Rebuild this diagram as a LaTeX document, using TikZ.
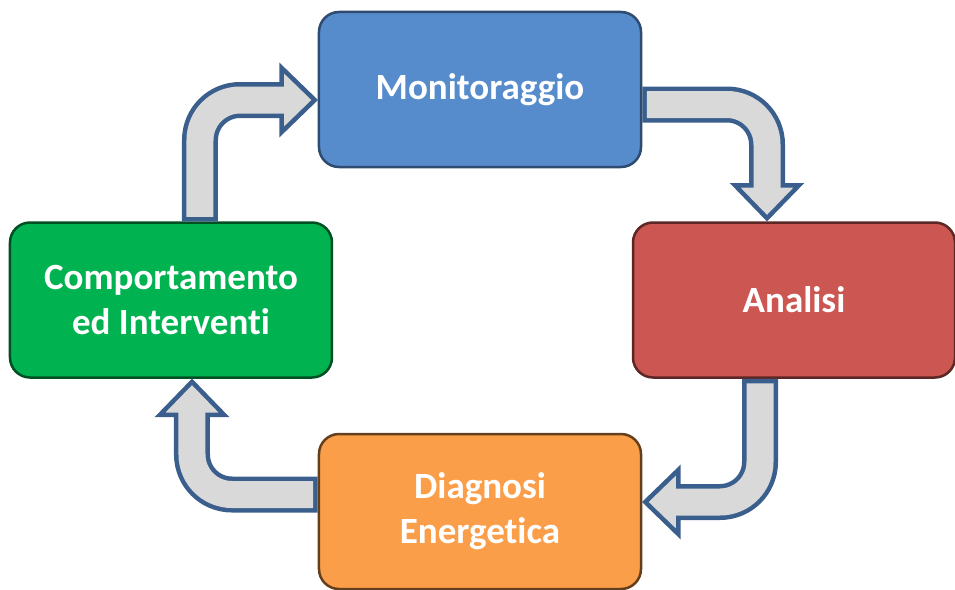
\documentclass[tikz,border=0pt]{standalone}
\usepackage{fontspec}
\setmainfont[Ligatures=NoCommon]{Carlito}
\usetikzlibrary{positioning, calc}

\definecolor{monblue}{RGB}{86,139,204}
\definecolor{anared}{RGB}{204,86,81}
\definecolor{diaorange}{RGB}{251,158,74}
\definecolor{comgreen}{RGB}{0,178,80}
\definecolor{arrowgray}{RGB}{217,217,217}
\definecolor{arrowline}{RGB}{58,95,140}

% bent block arrow: start, corner, tip
\newcommand{\cyclearrow}[3]{%
  \coordinate (hb) at ($(#3)!33pt!(#2)$);
  \draw[arrowline, line width=36pt, rounded corners=40pt] (#1) -- (#2) -- (hb);
  \filldraw[fill=arrowgray, draw=arrowline, line width=4.5pt, line join=miter]
     ($(hb)!32pt!90:(#3)$) -- (#3) -- ($(hb)!32pt!-90:(#3)$) -- cycle;
  \draw[arrowgray, line width=27pt, rounded corners=40pt] ($(#1)!4.5pt!(#2)$) -- (#2) -- ($(hb)!6pt!(#3)$);
}

\begin{document}
\begin{tikzpicture} [x=1pt, y=1pt, on grid,
   phase/.style={draw, line width=2.5pt, rounded corners=20pt, minimum width=322pt,
      minimum height=155pt, align=center, text=white,
      font=\fontsize{37}{45}\selectfont\bfseries}]
   \useasboundingbox (-480,89.5) rectangle (475,-499.5);

   \node (mon)[phase, fill=monblue, draw=monblue!55!black] {Monitoraggio};
   \node (ana)[phase, fill=anared, draw=anared!45!black, below right = 210.5pt and 314pt of mon] {Analisi};
   \node (dia)[phase, fill=diaorange, draw=diaorange!40!black, below = 422pt of mon] {Diagnosi\\Energetica};
   \node (com)[phase, fill=comgreen, draw=comgreen!45!black, below left = 210.5pt and 309pt of mon] {Comportamento\\ed Interventi};

   % arrow ends
   \coordinate (s1) at ($(com.north)+(29,0)$);
   \coordinate (t1) at ($(mon.west)+(-3,-10.5)$);
   \coordinate (s2) at ($(mon.east)+(0,-15)$);
   \coordinate (t2) at ($(ana.north)+(-27,3)$);
   \coordinate (s3) at ($(ana.south)+(-34,0)$);
   \coordinate (t3) at ($(dia.east)+(3,9.5)$);
   \coordinate (s4) at ($(dia.west)+(0,17)$);
   \coordinate (t4) at ($(com.south)+(21,-3)$);

   \cyclearrow{s1}{s1 |- t1}{t1}
   \cyclearrow{s2}{t2 |- s2}{t2}
   \cyclearrow{s3}{s3 |- t3}{t3}
   \cyclearrow{s4}{t4 |- s4}{t4}
\end{tikzpicture}
\end{document}
